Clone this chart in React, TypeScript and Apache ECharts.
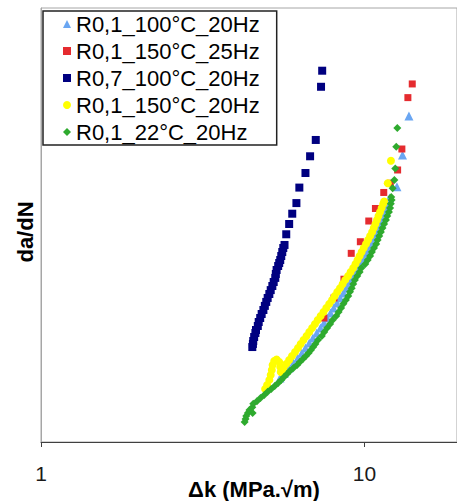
import React, { useEffect, useRef } from "react";
import * as echarts from "echarts";

const FONT = '"Liberation Sans", Arial, sans-serif';

const seriesNames = [
  "R0,1_100°C_20Hz",
  "R0,1_150°C_25Hz",
  "R0,7_100°C_20Hz",
  "R0,1_150°C_20Hz",
  "R0,1_22°C_20Hz",
];

const xTickLabels = ["1", "10"];

// R0,1_100°C_20Hz  (ΔK, da/dN)
const lightBlueK = [5.48, 5.66, 5.84, 6.03, 6.22, 6.40, 6.57, 6.75, 6.93, 7.12, 7.31, 7.49, 7.67, 7.85, 8.03, 8.22, 8.41, 8.61, 8.79, 8.95, 9.13, 9.34, 9.55, 9.75, 9.96, 10.16, 10.34, 10.52, 10.71, 10.89, 11.05, 11.21, 11.36, 11.50, 11.65, 11.80, 11.96, 12.60, 13.11, 13.72];
const lightBlueRate = [2.00e-9, 2.24e-9, 2.51e-9, 2.82e-9, 3.16e-9, 3.55e-9, 3.98e-9, 4.47e-9, 5.01e-9, 5.62e-9, 6.31e-9, 7.08e-9, 7.94e-9, 8.91e-9, 1.00e-8, 1.12e-8, 1.26e-8, 1.41e-8, 1.58e-8, 1.78e-8, 2.00e-8, 2.24e-8, 2.51e-8, 2.82e-8, 3.16e-8, 3.55e-8, 3.98e-8, 4.47e-8, 5.01e-8, 5.62e-8, 6.31e-8, 7.08e-8, 7.94e-8, 8.91e-8, 1.00e-7, 1.12e-7, 1.26e-7, 1.63e-7, 3.39e-7, 8.32e-7];

// R0,1_150°C_25Hz
const redK = [7.49, 8.05, 8.64, 9.10, 9.71, 10.31, 10.81, 11.47, 12.02, 12.66, 13.05, 13.62, 14.05];
const redRate = [7.94e-9, 1.26e-8, 1.94e-8, 3.52e-8, 4.60e-8, 7.41e-8, 9.89e-8, 1.43e-7, 1.77e-7, 2.40e-7, 3.89e-7, 1.27e-6, 1.74e-6];

// R0,7_100°C_20Hz
const navyK = [4.50, 4.52, 4.53, 4.56, 4.60, 4.62, 4.68, 4.71, 4.76, 4.81, 4.87, 4.92, 4.97, 5.02, 5.08, 5.13, 5.19, 5.24, 5.30, 5.32, 5.35, 5.41, 5.45, 5.49, 5.53, 5.57, 5.61, 5.66, 5.73, 5.85, 5.98, 6.16, 6.29, 6.57, 6.79, 7.07, 7.34, 7.40];
const navyRate = [4.07e-9, 4.37e-9, 4.68e-9, 5.13e-9, 5.62e-9, 6.03e-9, 6.61e-9, 7.24e-9, 7.94e-9, 8.71e-9, 9.55e-9, 1.05e-8, 1.15e-8, 1.26e-8, 1.38e-8, 1.51e-8, 1.66e-8, 1.82e-8, 2.00e-8, 2.19e-8, 2.40e-8, 2.63e-8, 2.82e-8, 3.02e-8, 3.31e-8, 3.63e-8, 3.98e-8, 4.27e-8, 5.46e-8, 6.92e-8, 8.77e-8, 1.12e-7, 1.60e-7, 2.24e-7, 3.29e-7, 4.79e-7, 1.63e-6, 2.36e-6];

// R0,1_150°C_20Hz
const yellowK = [4.93, 5.00, 5.08, 5.13, 5.17, 5.20, 5.26, 5.35, 5.45, 5.49, 5.57,
  5.51, 5.62, 5.73, 5.85, 5.97, 6.10, 6.23, 6.35, 6.48, 6.62, 6.75, 6.89, 7.03, 7.17, 7.32, 7.47, 7.62, 7.78, 7.94, 8.09,
  8.24, 8.40, 8.56, 8.72, 8.90, 9.06, 9.23, 9.38, 9.52, 9.66, 9.80, 9.95, 10.11, 10.26, 10.41, 10.56, 10.68, 10.81, 10.93, 11.05,
  11.17, 11.30, 11.43, 11.50, 11.80, 12.07];
const yellowRate = [1.55e-9, 1.70e-9, 1.91e-9, 2.14e-9, 2.40e-9, 2.69e-9, 2.95e-9, 3.05e-9, 2.88e-9, 2.57e-9, 2.40e-9,
  2.29e-9, 2.51e-9, 2.75e-9, 3.02e-9, 3.31e-9, 3.63e-9, 3.98e-9, 4.37e-9, 4.79e-9, 5.25e-9, 5.75e-9, 6.31e-9, 6.92e-9, 7.59e-9, 8.32e-9, 9.12e-9, 1.00e-8, 1.10e-8, 1.20e-8, 1.32e-8,
  1.45e-8, 1.58e-8, 1.74e-8, 1.91e-8, 2.09e-8, 2.29e-8, 2.51e-8, 2.75e-8, 3.02e-8, 3.31e-8, 3.63e-8, 3.98e-8, 4.37e-8, 4.79e-8, 5.25e-8, 5.75e-8, 6.31e-8, 6.92e-8, 7.59e-8, 8.32e-8,
  9.12e-8, 1.00e-7, 1.10e-7, 1.16e-7, 1.77e-7, 2.97e-7];

// R0,1_22°C_20Hz
const greenK = [4.26, 4.29, 4.31, 4.36, 4.51, 4.41, 4.50, 4.53, 4.65, 4.77, 4.90, 5.02, 5.15, 5.28, 5.41, 5.53, 5.64, 5.76, 5.88, 6.03,
  6.19, 6.31, 6.45, 6.59, 6.72, 6.83, 6.94, 7.05, 7.18, 7.38, 7.51, 7.66, 7.83, 7.97, 8.18, 8.32, 8.47, 8.61, 8.76, 8.91,
  9.02, 9.13, 9.23, 9.34, 9.50, 9.66, 9.78, 10.06, 10.23, 10.41, 10.54, 10.70, 10.87, 10.98, 11.11, 11.24, 11.37, 11.50, 11.65, 11.76,
  11.90, 12.00, 12.06, 12.13, 12.10, 12.22, 12.37, 12.45, 12.54, 12.63];
const greenRate = [7.24e-10, 7.76e-10, 8.32e-10, 8.91e-10, 8.91e-10, 9.55e-10, 1.02e-9, 1.10e-9, 1.17e-9, 1.26e-9, 1.35e-9, 1.45e-9, 1.55e-9, 1.66e-9, 1.78e-9, 1.91e-9, 2.04e-9, 2.19e-9, 2.34e-9, 2.51e-9,
  2.69e-9, 2.88e-9, 3.09e-9, 3.31e-9, 3.55e-9, 3.80e-9, 4.07e-9, 4.37e-9, 4.79e-9, 5.25e-9, 5.75e-9, 6.31e-9, 6.92e-9, 7.59e-9, 8.32e-9, 9.12e-9, 1.00e-8, 1.10e-8, 1.20e-8, 1.32e-8,
  1.45e-8, 1.58e-8, 1.74e-8, 1.91e-8, 2.09e-8, 2.29e-8, 2.51e-8, 2.75e-8, 3.02e-8, 3.31e-8, 3.63e-8, 3.98e-8, 4.37e-8, 4.79e-8, 5.25e-8, 5.75e-8, 6.31e-8, 6.92e-8, 7.59e-8, 8.32e-8,
  9.12e-8, 1.00e-7, 1.10e-7, 1.20e-7, 1.29e-7, 1.58e-7, 1.91e-7, 2.48e-7, 4.10e-7, 6.31e-7];

const pairs = (xs: number[], ys: number[]) => xs.map((x, i) => [x, ys[i]]);

export default function App() {
  const ref = useRef<HTMLDivElement>(null);
  useEffect(() => {
    if (!ref.current) return;
    const chart = echarts.init(ref.current, null, { renderer: "svg" });
    const mk = (name: string, symbol: string, size: number, color: string, data: number[][]) => ({
      name,
      type: "scatter",
      symbol,
      symbolSize: size,
      itemStyle: { color, opacity: 1 },
      emphasis: { disabled: true },
      data,
    });
    chart.setOption({
      animation: false,
      backgroundColor: "#ffffff",
      textStyle: { fontFamily: FONT },
      grid: { left: 41, right: -2, top: 8, bottom: 59, show: true, borderColor: "#a6a6a6", borderWidth: 1 },
      legend: {
        orient: "vertical",
        left: 43,
        top: 11,
        padding: [2, 17, 2, 20],
        itemGap: 5,
        itemWidth: 8,
        itemHeight: 8,
        borderColor: "#222222",
        borderWidth: 1.5,
        backgroundColor: "#ffffff",
        textStyle: { fontSize: 22, color: "#000000", fontFamily: FONT },
        data: seriesNames,
      },
      xAxis: {
        type: "log",
        logBase: 10,
        min: 1,
        max: 19.32,
        axisLine: { show: true, lineStyle: { color: "#404040", width: 1 } },
        axisTick: { show: true, inside: false, length: 5, lineStyle: { color: "#404040" } },
        minorTick: { show: false },
        splitLine: { show: false },
        axisLabel: {
          fontSize: 21,
          color: "#1a1a1a",
          margin: 21,
          fontFamily: FONT,
          showMaxLabel: false,
          formatter: (v: number) => {
            const i = Math.round(Math.log10(v));
            return xTickLabels[i] ?? "";
          },
        },
      },
      yAxis: {
        type: "log",
        logBase: 10,
        min: 4.571e-10,
        max: 1e-5,
        axisLine: { show: true, lineStyle: { color: "#a6a6a6", width: 1 } },
        axisTick: { show: false },
        axisLabel: { show: false },
        splitLine: { show: false },
        minorTick: { show: false },
      },
      graphic: [
        {
          type: "text",
          x: 254,
          y: 489,
          style: { text: "Δk (MPa.√m)", font: `bold 22px ${FONT}`, fill: "#000000", align: "center", verticalAlign: "middle" },
        },
        {
          type: "text",
          x: 25,
          y: 232,
          rotation: Math.PI / 2,
          style: { text: "da/dN", font: `bold 22px ${FONT}`, fill: "#000000", align: "center", verticalAlign: "middle" },
        },
      ],
      series: [
        mk(seriesNames[0], "triangle", 9, "#6aa6f2", pairs(lightBlueK, lightBlueRate)),
        mk(seriesNames[1], "rect", 7, "#e52b2f", pairs(redK, redRate)),
        mk(seriesNames[2], "rect", 8, "#000080", pairs(navyK, navyRate)),
        mk(seriesNames[3], "circle", 8, "#ffff00", pairs(yellowK, yellowRate)),
        mk(seriesNames[4], "diamond", 8, "#2eaa2e", pairs(greenK, greenRate)),
      ],
    });
    return () => chart.dispose();
  }, []);
  return <div ref={ref} style={{ position: "absolute", left: 0, top: 0, width: 457, height: 501 }} />;
}
